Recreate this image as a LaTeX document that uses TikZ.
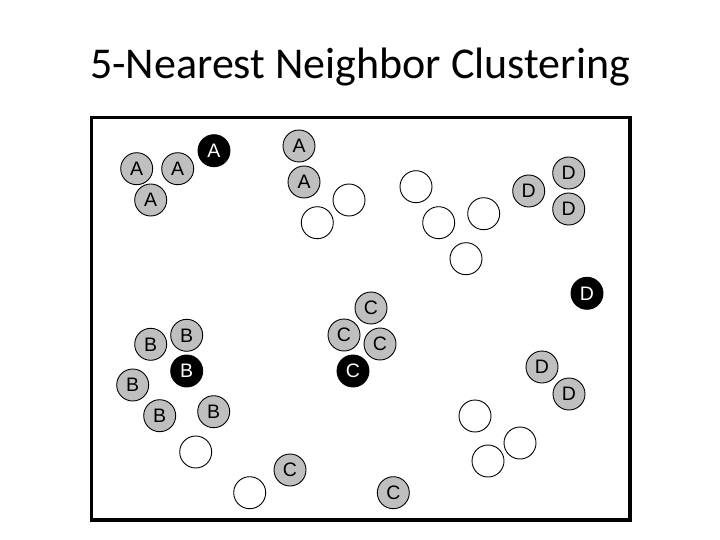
\documentclass[tikz,border=0pt]{standalone}
\usepackage{fontspec}
\setmainfont{Carlito}
\newfontfamily\labelfont{Liberation Sans}
\usepackage{tikz}
\usetikzlibrary{positioning}

\begin{document}
\begin{tikzpicture}[x=1pt, y=-1pt,
    pt/.style={circle, draw=black, line width=0.9pt, minimum size=32pt, inner sep=0pt, font=\labelfont\fontsize{19.5}{19.5}\selectfont},
    member/.style={pt, fill=black!25},
    core/.style={pt, fill=black, text=white},
    noise/.style={pt, fill=white}
]
\useasboundingbox (0,0) rectangle (720,540);

% Title
\node[anchor=base, font=\fontsize{44}{44}\selectfont] (title) at (360, 79) {5-Nearest Neighbor Clustering};

% Frame
\draw[line width=3.5pt] (91.5, 117.5) rectangle (630, 520);

% Cluster A - top left
\node[member] (a1) at (136.7, 168.7) {A};
\node[member] (a2) at (177.7, 168.7) {A};
\node[core] (a3) at (214, 150.7) {A};
\node[member] (a4) at (150.7, 200) {A};
\node[member] (a5) at (299, 146) {A};
\node[member] (a6) at (304, 182) {A};

% Cluster D - top right
\node[member] (d1) at (528.7, 191) {D};
\node[member] (d2) at (568.7, 173) {D};
\node[member] (d3) at (568.7, 209) {D};
\node[core] (d4) at (587, 293.3) {D};
\node[member] (d5) at (542, 367) {D};
\node[member] (d6) at (569, 394) {D};

% Cluster B - bottom left
\node[member] (b1) at (150.7, 344.3) {B};
\node[member] (b2) at (186.7, 335.3) {B};
\node[core] (b3) at (186.7, 371) {B};
\node[member] (b4) at (132.7, 385) {B};
\node[member] (b5) at (159.7, 415.7) {B};
\node[member] (b6) at (213.7, 411.7) {B};

% Cluster C - middle
\node[member] (c1) at (371, 308) {C};
\node[member] (c2) at (344, 335) {C};
\node[member] (c3) at (380, 344) {C};
\node[core] (c4) at (353, 371) {C};
\node[member] (c5) at (290, 470) {C};
\node[member] (c6) at (393.3, 492.7) {C};

% Unclustered points
\node[noise] (n1) at (349, 200) {};
\node[noise] (n2) at (317.3, 222.7) {};
\node[noise] (n3) at (416, 186.7) {};
\node[noise] (n4) at (438.7, 222.7) {};
\node[noise] (n5) at (483.7, 213.7) {};
\node[noise] (n6) at (466, 258.7) {};
\node[noise] (n7) at (195.7, 452) {};
\node[noise] (n8) at (249.7, 492.7) {};
\node[noise] (n9) at (475, 416) {};
\node[noise] (n10) at (520, 443) {};
\node[noise] (n11) at (488, 461) {};

\end{tikzpicture}
\end{document}
